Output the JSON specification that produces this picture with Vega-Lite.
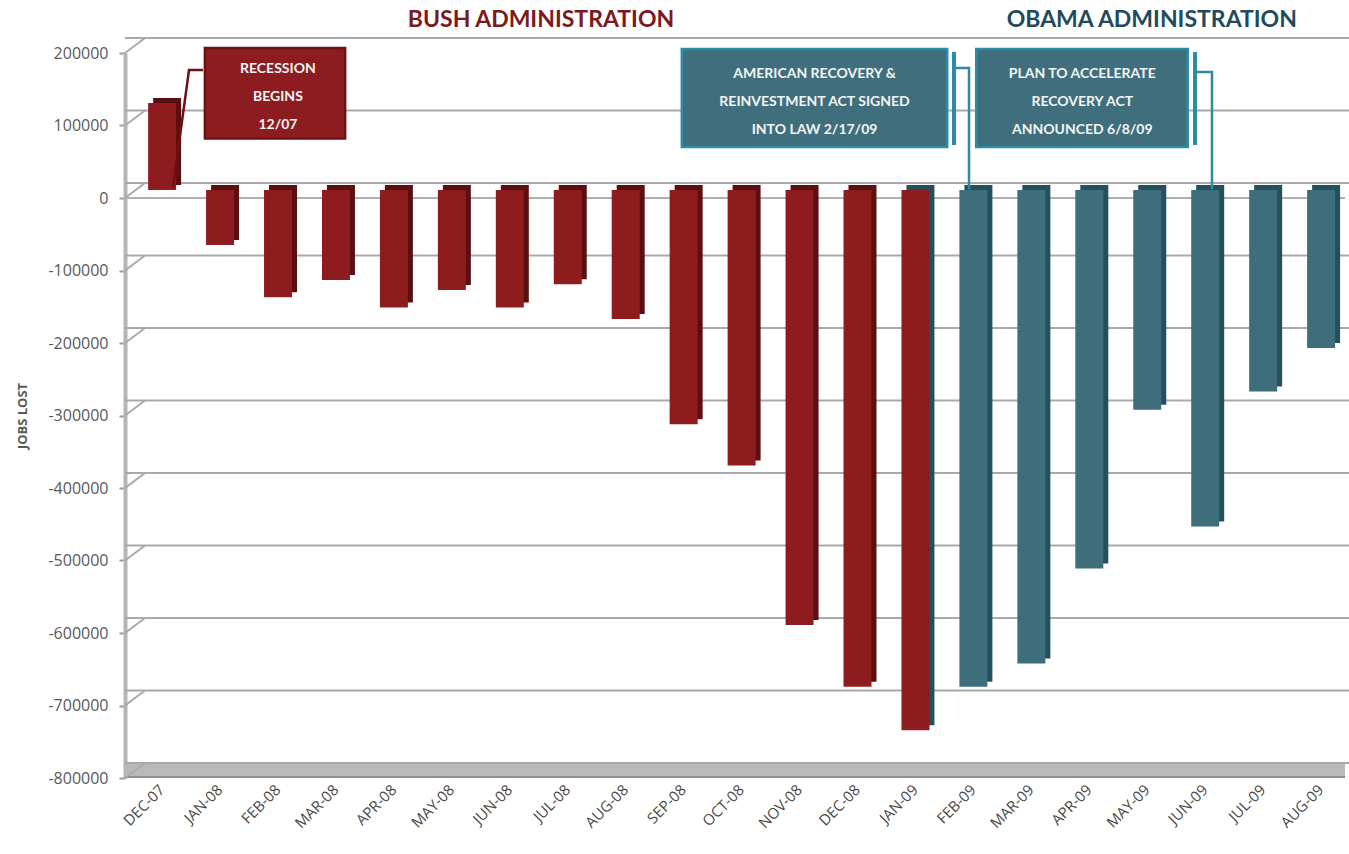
{
  "$schema": "https://vega.github.io/schema/vega-lite/v6.json",
  "autosize": "none",
  "width": 1220,
  "height": 725,
  "padding": {"left": 125, "top": 53, "right": 4, "bottom": 76},
  "background": "white",
  "config": {"view": {"stroke": null}, "font": "Open Sans"},
  "datasets": {
    "jobs": [
      {"month": "DEC-07", "jobs": 120000, "admin": "Bush", "adminEnd": "Bush"},
      {"month": "JAN-08", "jobs": -76000, "admin": "Bush", "adminEnd": "Bush"},
      {"month": "FEB-08", "jobs": -148000, "admin": "Bush", "adminEnd": "Bush"},
      {"month": "MAR-08", "jobs": -124000, "admin": "Bush", "adminEnd": "Bush"},
      {"month": "APR-08", "jobs": -162000, "admin": "Bush", "adminEnd": "Bush"},
      {"month": "MAY-08", "jobs": -138000, "admin": "Bush", "adminEnd": "Bush"},
      {"month": "JUN-08", "jobs": -162000, "admin": "Bush", "adminEnd": "Bush"},
      {"month": "JUL-08", "jobs": -130000, "admin": "Bush", "adminEnd": "Bush"},
      {"month": "AUG-08", "jobs": -178000, "admin": "Bush", "adminEnd": "Bush"},
      {"month": "SEP-08", "jobs": -323000, "admin": "Bush", "adminEnd": "Bush"},
      {"month": "OCT-08", "jobs": -380000, "admin": "Bush", "adminEnd": "Bush"},
      {"month": "NOV-08", "jobs": -600000, "admin": "Bush", "adminEnd": "Bush"},
      {"month": "DEC-08", "jobs": -685000, "admin": "Bush", "adminEnd": "Bush"},
      {"month": "JAN-09", "jobs": -745000, "admin": "Bush", "adminEnd": "Obama"},
      {"month": "FEB-09", "jobs": -685000, "admin": "Obama", "adminEnd": "Obama"},
      {"month": "MAR-09", "jobs": -653000, "admin": "Obama", "adminEnd": "Obama"},
      {"month": "APR-09", "jobs": -522000, "admin": "Obama", "adminEnd": "Obama"},
      {"month": "MAY-09", "jobs": -303000, "admin": "Obama", "adminEnd": "Obama"},
      {"month": "JUN-09", "jobs": -464000, "admin": "Obama", "adminEnd": "Obama"},
      {"month": "JUL-09", "jobs": -278000, "admin": "Obama", "adminEnd": "Obama"},
      {"month": "AUG-09", "jobs": -218000, "admin": "Obama", "adminEnd": "Obama"}
    ],
    "grid": [
      {"v": 200000}, {"v": 100000}, {"v": 0}, {"v": -100000}, {"v": -200000},
      {"v": -300000}, {"v": -400000}, {"v": -500000}, {"v": -600000},
      {"v": -700000}, {"v": -800000}
    ],
    "boxes": [
      {"id": "recession", "admin": "Bush", "q1": 0.74, "q2": 3.16, "vTop": 207000, "vBottom": 82000, "label": "RECESSION\nBEGINS\n12/07", "qText": 2.0, "vText": 177900},
      {"id": "arra", "admin": "Obama", "q1": 8.97, "q2": 13.55, "vTop": 205500, "vBottom": 70300, "label": "AMERICAN RECOVERY &\nREINVESTMENT ACT SIGNED\nINTO LAW 2/17/09", "qText": 11.26, "vText": 171000},
      {"id": "plan", "admin": "Obama", "q1": 14.05, "q2": 17.70, "vTop": 205500, "vBottom": 70300, "label": "PLAN TO ACCELERATE\nRECOVERY ACT\nANNOUNCED 6/8/09", "qText": 15.88, "vText": 171000}
    ],
    "connectors": [
      {"id": "recession-link", "kind": "link", "admin": "Bush", "ord": 1, "q": 0.707, "v": 176500},
      {"id": "recession-link", "kind": "link", "admin": "Bush", "ord": 2, "q": 0.466, "v": 176500},
      {"id": "recession-link", "kind": "link", "admin": "Bush", "ord": 3, "q": 0.19, "v": 15200},
      {"id": "arra-bracket", "kind": "bracket", "admin": "Obama", "ord": 1, "q": 13.667, "v": 201400},
      {"id": "arra-bracket", "kind": "bracket", "admin": "Obama", "ord": 2, "q": 13.667, "v": 73100},
      {"id": "arra-link", "kind": "link", "admin": "Obama", "ord": 1, "q": 13.667, "v": 179300},
      {"id": "arra-link", "kind": "link", "admin": "Obama", "ord": 2, "q": 13.926, "v": 179300},
      {"id": "arra-link", "kind": "link", "admin": "Obama", "ord": 3, "q": 13.926, "v": 12000},
      {"id": "plan-bracket", "kind": "bracket", "admin": "Obama", "ord": 1, "q": 17.826, "v": 201400},
      {"id": "plan-bracket", "kind": "bracket", "admin": "Obama", "ord": 2, "q": 17.826, "v": 73100},
      {"id": "plan-link", "kind": "link", "admin": "Obama", "ord": 1, "q": 17.826, "v": 173800},
      {"id": "plan-link", "kind": "link", "admin": "Obama", "ord": 2, "q": 18.119, "v": 173800},
      {"id": "plan-link", "kind": "link", "admin": "Obama", "ord": 3, "q": 18.119, "v": 12000}
    ],
    "titles": [
      {"label": "BUSH ADMINISTRATION", "admin": "Bush", "q": 6.54, "v": 245500},
      {"label": "OBAMA ADMINISTRATION", "admin": "Obama", "q": 17.08, "v": 245500}
    ]
  },
  "layer": [
    {
      "layer": [
        {
          "data": {"name": "grid"},
          "mark": {"type": "rule", "color": "#a9a9a9", "strokeWidth": 2, "xOffset": 20, "yOffset": -15},
          "encoding": {
            "y": {"field": "v", "type": "quantitative", "scale": {"domain": [-800000, 200000], "nice": false, "zero": false}}
          }
        },
        {
          "data": {"name": "grid"},
          "transform": [{"filter": "datum.v == 0"}],
          "mark": {"type": "rule", "color": "#b0b0b0", "strokeWidth": 2},
          "encoding": {
            "y": {"field": "v", "type": "quantitative", "scale": {"domain": [-800000, 200000], "nice": false, "zero": false}}
          }
        },
        {
          "data": {"name": "grid"},
          "transform": [{"filter": "datum.v == -800000"}],
          "mark": {"type": "rule", "color": "#b9b9b9", "strokeWidth": 14, "yOffset": -7},
          "encoding": {
            "y": {"field": "v", "type": "quantitative", "scale": {"domain": [-800000, 200000], "nice": false, "zero": false}}
          }
        },
        {
          "data": {"name": "grid"},
          "transform": [{"filter": "datum.v == -800000"}],
          "mark": {"type": "rule", "color": "#8e8e8e", "strokeWidth": 2, "yOffset": -1},
          "encoding": {
            "y": {"field": "v", "type": "quantitative", "scale": {"domain": [-800000, 200000], "nice": false, "zero": false}}
          }
        },
        {
          "data": {"name": "jobs"},
          "mark": {"type": "bar", "xOffset": 5, "yOffset": -13, "y2Offset": -13},
          "encoding": {
            "x": {"field": "month", "type": "nominal", "sort": null, "scale": {"paddingInner": 0.517, "paddingOuter": 0.285, "align": 0.7}},
            "y": {"field": "jobs", "type": "quantitative", "scale": {"domain": [-800000, 200000], "nice": false, "zero": false}},
            "y2": {"datum": 0},
            "fill": {"field": "adminEnd", "type": "nominal", "scale": {"domain": ["Bush", "Obama"], "range": ["#5a0f12", "#24505c"]}, "legend": null}
          }
        },
        {
          "data": {"name": "jobs"},
          "mark": {"type": "bar", "yOffset": -8, "y2Offset": -8},
          "encoding": {
            "x": {
              "field": "month", "type": "nominal", "sort": null,
              "scale": {"paddingInner": 0.517, "paddingOuter": 0.285, "align": 0.7},
              "axis": {"title": null, "labelAngle": -45, "labelFont": "Open Sans", "labelFontSize": 15, "labelColor": "#4a4a4a", "domain": false, "ticks": false, "labelPadding": 9}
            },
            "y": {
              "field": "jobs", "type": "quantitative",
              "scale": {"domain": [-800000, 200000], "nice": false, "zero": false},
              "axis": {
                "title": "JOBS LOST", "values": [200000, 100000, 0, -100000, -200000, -300000, -400000, -500000, -600000, -700000, -800000],
                "labelExpr": "'' + datum.value", "labelFont": "Open Sans", "labelFontSize": 16, "labelColor": "#595959",
                "tickSize": 6, "tickColor": "#9a9a9a", "tickWidth": 2, "labelPadding": 11,
                "domainColor": "#b5b5b5", "domainWidth": 4, "grid": false,
                "titleFont": "Open Sans", "titleFontSize": 13, "titleFontWeight": "bold", "titleColor": "#595959", "titlePadding": 18
              }
            },
            "y2": {"datum": 0},
            "color": {"field": "admin", "type": "nominal", "scale": {"domain": ["Bush", "Obama"], "range": ["#8e1c1e", "#3e6e7b"]}, "legend": null}
          }
        }
      ]
    },
    {
      "layer": [
        {
          "data": {"name": "grid"},
          "mark": {"type": "rule", "color": "#a9a9a9", "strokeWidth": 2, "x2Offset": 20, "y2Offset": -15},
          "encoding": {
            "x": {"datum": -0.6385, "type": "quantitative", "scale": {"domain": [-0.6385, 20.414], "nice": false, "zero": false}, "axis": null},
            "x2": {"datum": -0.6385},
            "y": {"field": "v", "type": "quantitative", "scale": {"domain": [-800000, 200000], "nice": false, "zero": false}},
            "y2": {"field": "v"}
          }
        },
        {
          "data": {"name": "boxes"},
          "mark": {"type": "rect", "strokeWidth": 2.5},
          "encoding": {
            "x": {"field": "q1", "type": "quantitative", "scale": {"domain": [-0.6385, 20.414], "nice": false, "zero": false}, "axis": null},
            "x2": {"field": "q2"},
            "y": {"field": "vTop", "type": "quantitative", "scale": {"domain": [-800000, 200000], "nice": false, "zero": false}},
            "y2": {"field": "vBottom"},
            "fill": {"field": "admin", "type": "nominal", "scale": {"domain": ["Bush", "Obama"], "range": ["#8c1c1f", "#3f6f7d"]}, "legend": null},
            "stroke": {"field": "admin", "type": "nominal", "scale": {"domain": ["Bush", "Obama"], "range": ["#6e1014", "#2e8ba4"]}, "legend": null}
          }
        },
        {
          "data": {"name": "boxes"},
          "mark": {"type": "text", "font": "Lato", "fontWeight": "bold", "fontSize": 14, "color": "#f4f4f4", "lineBreak": "\n", "lineHeight": 28, "align": "center", "baseline": "middle"},
          "encoding": {
            "x": {"field": "qText", "type": "quantitative", "scale": {"domain": [-0.6385, 20.414], "nice": false, "zero": false}, "axis": null},
            "y": {"field": "vText", "type": "quantitative", "scale": {"domain": [-800000, 200000], "nice": false, "zero": false}},
            "text": {"field": "label"}
          }
        },
        {
          "data": {"name": "connectors"},
          "transform": [{"filter": "datum.kind == 'bracket'"}],
          "mark": {"type": "line", "strokeWidth": 4},
          "encoding": {
            "x": {"field": "q", "type": "quantitative", "scale": {"domain": [-0.6385, 20.414], "nice": false, "zero": false}, "axis": null},
            "y": {"field": "v", "type": "quantitative", "scale": {"domain": [-800000, 200000], "nice": false, "zero": false}},
            "detail": {"field": "id"},
            "order": {"field": "ord"},
            "stroke": {"field": "admin", "type": "nominal", "scale": {"domain": ["Bush", "Obama"], "range": ["#6e1014", "#2e8ba4"]}, "legend": null}
          }
        },
        {
          "data": {"name": "connectors"},
          "transform": [{"filter": "datum.kind == 'link'"}],
          "mark": {"type": "line", "strokeWidth": 2.5},
          "encoding": {
            "x": {"field": "q", "type": "quantitative", "scale": {"domain": [-0.6385, 20.414], "nice": false, "zero": false}, "axis": null},
            "y": {"field": "v", "type": "quantitative", "scale": {"domain": [-800000, 200000], "nice": false, "zero": false}},
            "detail": {"field": "id"},
            "order": {"field": "ord"},
            "stroke": {"field": "admin", "type": "nominal", "scale": {"domain": ["Bush", "Obama"], "range": ["#6e1014", "#2e8ba4"]}, "legend": null}
          }
        },
        {
          "data": {"name": "titles"},
          "mark": {"type": "text", "font": "Lato", "fontWeight": "bold", "fontSize": 23, "align": "center", "baseline": "middle"},
          "encoding": {
            "x": {"field": "q", "type": "quantitative", "scale": {"domain": [-0.6385, 20.414], "nice": false, "zero": false}, "axis": null},
            "y": {"field": "v", "type": "quantitative", "scale": {"domain": [-800000, 200000], "nice": false, "zero": false}},
            "text": {"field": "label"},
            "color": {"field": "admin", "type": "nominal", "scale": {"domain": ["Bush", "Obama"], "range": ["#7b1a1e", "#1f4b5a"]}, "legend": null}
          }
        }
      ]
    }
  ],
  "resolve": {"scale": {"x": "independent", "color": "independent", "fill": "independent", "stroke": "independent"}}
}
